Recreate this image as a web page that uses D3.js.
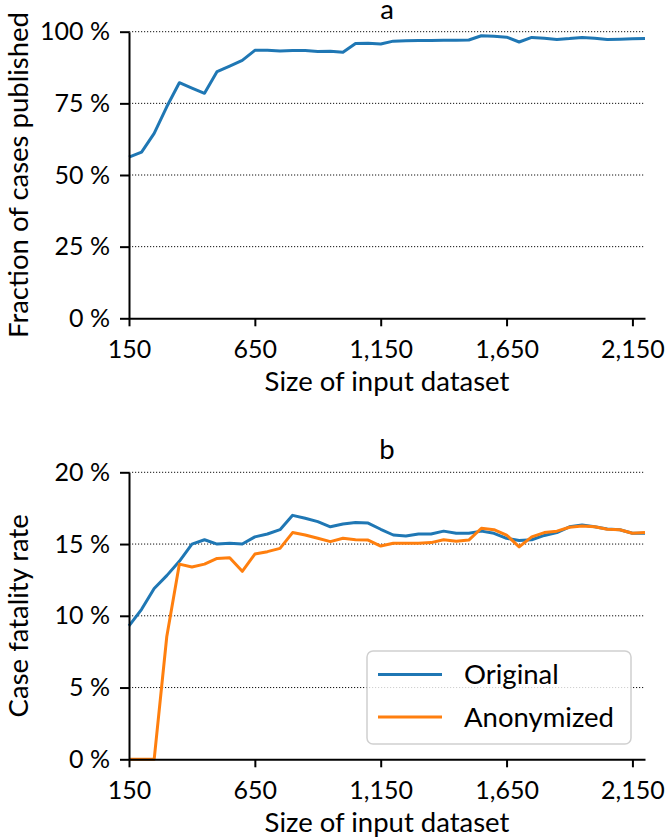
<!DOCTYPE html>
<html>
<head>
<meta charset="utf-8">
<script src="https://cdn.jsdelivr.net/npm/d3@7/dist/d3.min.js"></script>
<style>
  html, body { margin: 0; padding: 0; background: #fff; }
  svg { display: block; }
  text { font-family: Lato, "Open Sans", sans-serif; fill: #000; }
</style>
</head>
<body>
<svg id="chart" width="666" height="840"></svg>
<script>
// ---- data ----
const sizes = [150,200,250,300,350,400,450,500,550,600,650,700,750,800,850,900,950,1000,1050,1100,
  1150,1200,1250,1300,1350,1400,1450,1500,1550,1600,1650,1700,1750,1800,1850,1900,1950,2000,2050,2100,2150,2200];

const fractionPublished = [0.562,0.580,0.645,0.738,0.822,0.803,0.785,0.861,0.880,0.900,0.935,0.935,0.933,0.934,0.934,0.931,0.932,0.928,0.959,0.960,
  0.957,0.967,0.968,0.969,0.969,0.970,0.970,0.971,0.986,0.984,0.981,0.964,0.980,0.977,0.973,0.976,0.980,0.977,0.973,0.974,0.975,0.976];

const cfrOriginal = [0.093,0.1045,0.119,0.128,0.138,0.150,0.153,0.150,0.1505,0.150,0.155,0.157,0.160,0.170,0.168,0.1656,0.162,0.164,0.165,0.1646,
  0.1603,0.1563,0.1556,0.157,0.157,0.159,0.1575,0.1575,0.159,0.1575,0.154,0.1525,0.153,0.156,0.158,0.162,0.1633,0.162,0.1605,0.160,0.1575,0.1575];

const cfrAnonymized = [0,0,0,0.0854,0.136,0.134,0.136,0.140,0.1405,0.131,0.143,0.1447,0.147,0.158,0.1563,0.154,0.1517,0.154,0.153,0.1528,
  0.1486,0.1505,0.1505,0.1505,0.151,0.153,0.152,0.1528,0.161,0.160,0.1563,0.148,0.155,0.158,0.159,0.1617,0.1625,0.162,0.1603,0.160,0.1575,0.158];

const xTicks = [150, 650, 1150, 1650, 2150];
const yTicksA = [0, 0.25, 0.5, 0.75, 1];
const yTicksB = [0, 0.05, 0.10, 0.15, 0.20];
const seriesNames = ["Original", "Anonymized"];
const colors = ["#1f77b4", "#ff7f0e"];

// ---- drawing ----
const svg = d3.select("#chart");
const TICK_FS = 25;
const LABEL_FS = 27.5;
const x = d3.scaleLinear().domain([150, 2200]).range([129, 645]);

function panel(top, bottom, yDomain, yTicks, title, ylabel, series) {
  const y = d3.scaleLinear().domain(yDomain).range([bottom, top]);
  const g = svg.append("g");

  // grid
  g.append("g").selectAll("line").data(yTicks.slice(1)).join("line")
    .attr("x1", x.range()[0]).attr("x2", x.range()[1])
    .attr("y1", d => y(d)).attr("y2", d => y(d))
    .attr("stroke", "#111").attr("stroke-width", 1)
    .attr("stroke-dasharray", "1.2,1.8");

  // lines
  const line = d3.line().x((d, i) => x(sizes[i])).y(d => y(d));
  series.forEach(s => {
    g.append("path").datum(s.values)
      .attr("fill", "none").attr("stroke", s.color)
      .attr("stroke-width", 3).attr("stroke-linejoin", "round")
      .attr("d", line);
  });

  // axes
  const yAxis = d3.axisLeft(y).tickValues(yTicks)
    .tickFormat(d => Math.round(d * 100) + " %")
    .tickSize(9).tickSizeOuter(0).tickPadding(10);
  const ya = g.append("g").attr("transform", `translate(${x.range()[0]},0)`).call(yAxis);

  const xAxis = d3.axisBottom(x).tickValues(xTicks)
    .tickFormat(d3.format(",")).tickSize(8).tickSizeOuter(0).tickPadding(14);
  const xa = g.append("g").attr("transform", `translate(0,${bottom})`).call(xAxis);

  [ya, xa].forEach(a => {
    a.selectAll("path.domain").attr("stroke", "#000").attr("stroke-width", 2);
    a.selectAll(".tick line").attr("stroke", "#000").attr("stroke-width", 2);
    a.selectAll(".tick text").attr("font-size", TICK_FS).attr("font-family", "Lato, sans-serif").attr("fill", "#000");
  });

  // title
  g.append("text").attr("x", (x.range()[0] + x.range()[1]) / 2).attr("y", top - 13)
    .attr("text-anchor", "middle").attr("font-size", LABEL_FS).text(title);

  // x label
  g.append("text").attr("x", (x.range()[0] + x.range()[1]) / 2).attr("y", bottom + 73)
    .attr("text-anchor", "middle").attr("font-size", LABEL_FS).text("Size of input dataset");

  // y label
  g.append("text").attr("transform", `translate(27.5,${(top + bottom) / 2}) rotate(-90)`)
    .attr("text-anchor", "middle").attr("font-size", LABEL_FS).text(ylabel);

  return y;
}

panel(31.7, 318.3, [0, 1], yTicksA, "a", "Fraction of cases published",
  [{ values: fractionPublished, color: colors[0] }]);

panel(472.3, 759.3, [0, 0.2], yTicksB, "b", "Case fatality rate",
  [{ values: cfrOriginal, color: colors[0] }, { values: cfrAnonymized, color: colors[1] }]);

// legend
const lg = svg.append("g").attr("transform", "translate(367,651)");
lg.append("rect").attr("width", 264).attr("height", 93).attr("rx", 6)
  .attr("fill", "#fff").attr("fill-opacity", 0.8).attr("stroke", "#d0d0d0").attr("stroke-width", 1.5);
seriesNames.forEach((name, i) => {
  const yy = 23.5 + i * 42.4;
  lg.append("line").attr("x1", 11).attr("x2", 75).attr("y1", yy).attr("y2", yy)
    .attr("stroke", colors[i]).attr("stroke-width", 3);
  lg.append("text").attr("x", 97).attr("y", yy).attr("dy", "0.35em")
    .attr("font-size", LABEL_FS).text(name);
});
</script>
</body>
</html>
